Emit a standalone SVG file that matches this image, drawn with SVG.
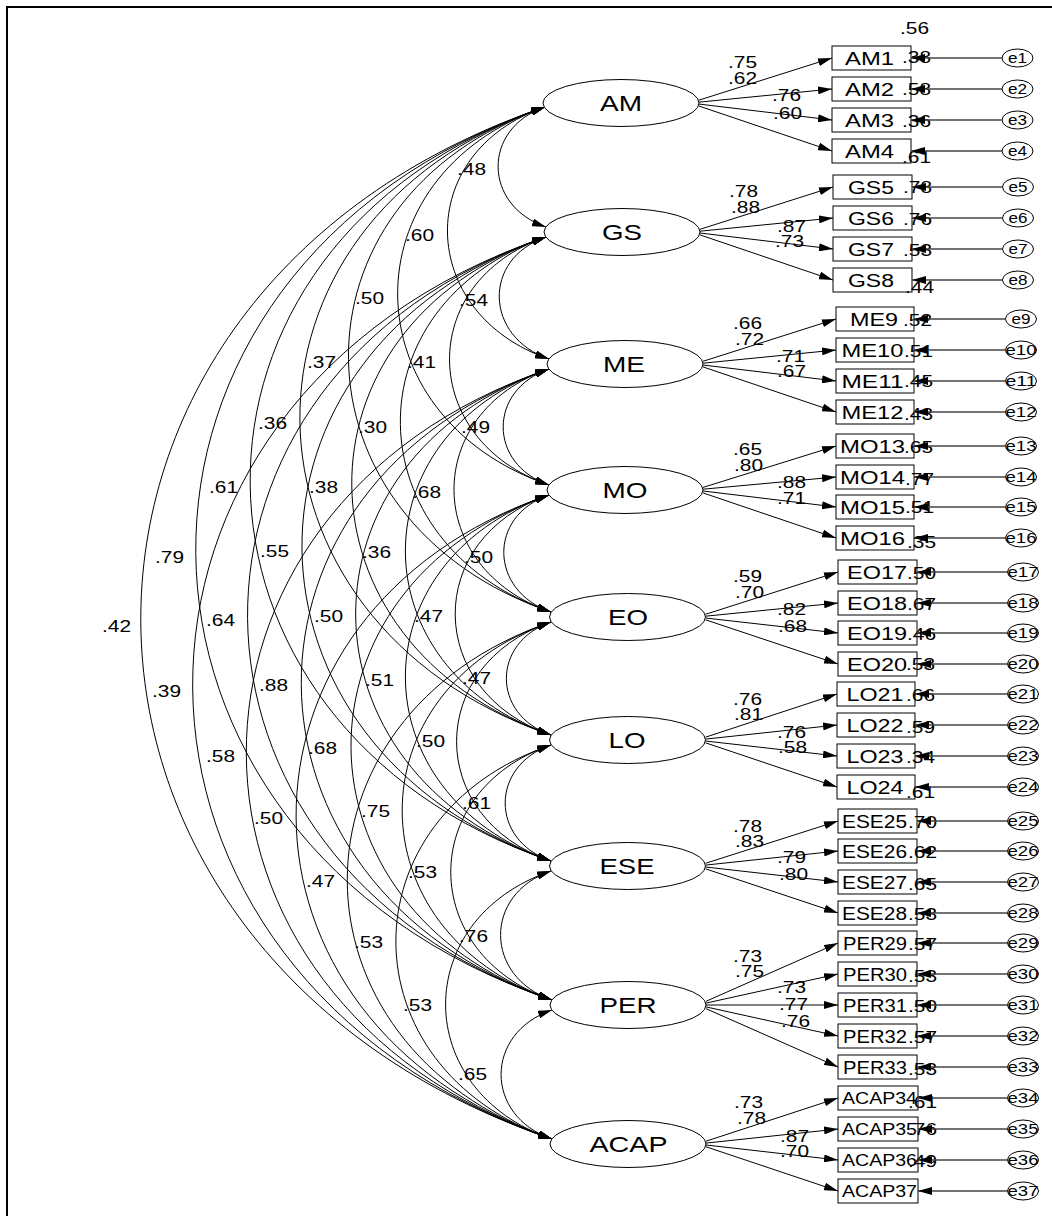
<svg xmlns="http://www.w3.org/2000/svg" width="1052" height="1216" viewBox="0 0 1052 1216">
<defs>
<marker id="ah" viewBox="0 0 14 8" refX="14" refY="4" markerWidth="14" markerHeight="8" markerUnits="userSpaceOnUse" orient="auto-start-reverse"><path d="M0,0 L14,4 L0,8 z" fill="#000"/></marker>
<style>
.lat ellipse{fill:#fff;stroke:#000;stroke-width:1}
.box{fill:#fff;stroke:#000;stroke-width:1}
.err ellipse{fill:#fff;stroke:#000;stroke-width:1}
text{font-family:"Liberation Sans",Arial,sans-serif;fill:#000}
.lt{font-size:22.5px;text-anchor:middle}
.ot{font-size:18px;text-anchor:middle}
.at{font-size:16.5px;text-anchor:middle}
.et{font-size:14px;text-anchor:middle}
.n{font-size:16.5px}
.arc{fill:none;stroke:#000;stroke-width:1;marker-start:url(#ah);marker-end:url(#ah)}
.ld{fill:none;stroke:#000;stroke-width:1;marker-end:url(#ah)}
.el{fill:none;stroke:#444;stroke-width:1.3;marker-end:url(#ah)}
</style>
</defs>
<rect width="1052" height="1216" fill="#fff"/>
<path d="M7,1216 V7 H1052" fill="none" stroke="#000" stroke-width="2"/>

<g id="connectors">
<g id="covariances">
<path class="arc" d="M545,107 C481.8,128.6 482.8,205.4 546,227"/>
<path class="arc" d="M545,107 C412.3,152.4 416.3,313.6 549,359"/>
<path class="arc" d="M545,107 C345.9,175 349.9,417 549,485"/>
<path class="arc" d="M545,107 C279,197.9 285,521.1 551,612"/>
<path class="arc" d="M545,107 C214.2,220 220.2,622 551,735"/>
<path class="arc" d="M545,107 C147.9,242.7 153.9,725.3 551,861"/>
<path class="arc" d="M545,107 C74.7,267.7 81.7,839.3 552,1000"/>
<path class="arc" d="M545,107 C1.4,292.8 8.4,953.2 552,1139"/>
<path class="arc" d="M546,237 C481.7,259 484.7,337 549,359"/>
<path class="arc" d="M546,237 C415.4,281.6 418.4,440.4 549,485"/>
<path class="arc" d="M546,237 C348.5,304.5 353.5,544.5 551,612"/>
<path class="arc" d="M546,237 C283.7,326.6 288.7,645.4 551,735"/>
<path class="arc" d="M546,237 C217.3,349.3 222.3,748.7 551,861"/>
<path class="arc" d="M546,237 C144.1,374.3 150.1,862.7 552,1000"/>
<path class="arc" d="M546,237 C70.9,399.4 76.9,976.6 552,1139"/>
<path class="arc" d="M549,369 C487.9,389.9 487.9,464.1 549,485"/>
<path class="arc" d="M549,369 C421,412.7 423,568.3 551,612"/>
<path class="arc" d="M549,369 C356.2,434.9 358.2,669.1 551,735"/>
<path class="arc" d="M549,369 C289.9,457.6 291.9,772.4 551,861"/>
<path class="arc" d="M549,369 C216.7,482.6 219.7,886.4 552,1000"/>
<path class="arc" d="M549,369 C143.4,507.6 146.4,1000.4 552,1139"/>
<path class="arc" d="M549,495 C487.4,516.1 489.4,590.9 551,612"/>
<path class="arc" d="M549,495 C422.6,538.2 424.6,691.8 551,735"/>
<path class="arc" d="M549,495 C356.2,560.9 358.2,795.1 551,861"/>
<path class="arc" d="M549,495 C283,585.9 286,909.1 552,1000"/>
<path class="arc" d="M549,495 C209.8,610.9 212.8,1023.1 552,1139"/>
<path class="arc" d="M551,622 C491.5,642.3 491.5,714.7 551,735"/>
<path class="arc" d="M551,622 C425.1,665 425.1,818 551,861"/>
<path class="arc" d="M551,622 C351.9,690 352.9,932 552,1000"/>
<path class="arc" d="M551,622 C278.7,715.1 279.7,1045.9 552,1139"/>
<path class="arc" d="M551,745 C489.9,765.9 489.9,840.1 551,861"/>
<path class="arc" d="M551,745 C416.7,790.9 417.7,954.1 552,1000"/>
<path class="arc" d="M551,745 C343.5,815.9 344.5,1068.1 552,1139"/>
<path class="arc" d="M551,871 C483.1,894.2 484.1,976.8 552,1000"/>
<path class="arc" d="M551,871 C409.8,919.2 410.8,1090.8 552,1139"/>
<path class="arc" d="M552,1010 C484.1,1033.2 484.1,1115.8 552,1139"/>
</g>
<g id="loadings">
<path class="ld" d="M698.5,100.3 L832,58"/>
<path class="ld" d="M698.5,102.2 L832,89"/>
<path class="ld" d="M698.5,104 L832,120"/>
<path class="ld" d="M698.5,105.9 L832,151"/>
<path class="ld" d="M700,229.3 L833,187"/>
<path class="ld" d="M700,231.2 L833,218"/>
<path class="ld" d="M700,233 L833,249"/>
<path class="ld" d="M700,234.9 L833,280"/>
<path class="ld" d="M703,361.3 L836,319"/>
<path class="ld" d="M703,363.2 L836,350"/>
<path class="ld" d="M703,365 L836,381"/>
<path class="ld" d="M703,366.9 L836,412"/>
<path class="ld" d="M703,487.4 L836,446"/>
<path class="ld" d="M703,489.2 L836,477"/>
<path class="ld" d="M703,491 L836,507"/>
<path class="ld" d="M703,492.9 L836,538"/>
<path class="ld" d="M705.5,614.3 L838,572"/>
<path class="ld" d="M705.5,616.2 L838,603"/>
<path class="ld" d="M705.5,618 L838,633"/>
<path class="ld" d="M705.5,619.8 L838,664"/>
<path class="ld" d="M705.5,737.2 L837,694"/>
<path class="ld" d="M705.5,739.1 L837,725"/>
<path class="ld" d="M705.5,741 L837,756"/>
<path class="ld" d="M705.5,742.8 L837,787"/>
<path class="ld" d="M705.5,863.3 L838,821"/>
<path class="ld" d="M705.5,865.1 L838,851"/>
<path class="ld" d="M705.5,867 L838,882"/>
<path class="ld" d="M705.5,868.8 L838,913"/>
<path class="ld" d="M706,1001.3 L838,943"/>
<path class="ld" d="M706,1003.1 L838,974"/>
<path class="ld" d="M706,1005 L838,1005"/>
<path class="ld" d="M706,1006.9 L838,1036"/>
<path class="ld" d="M706,1008.7 L838,1067"/>
<path class="ld" d="M706,1141.2 L838,1098"/>
<path class="ld" d="M706,1143.1 L838,1129"/>
<path class="ld" d="M706,1145 L838,1160"/>
<path class="ld" d="M706,1146.8 L838,1191"/>
</g>
</g>

<g id="latents" class="lat">
<g id="AM"><ellipse cx="621" cy="103" rx="78" ry="23.5"/><text class="lt" x="621" y="111" textLength="42" lengthAdjust="spacingAndGlyphs">AM</text></g>
<g id="GS"><ellipse cx="622" cy="232" rx="78" ry="23.5"/><text class="lt" x="622" y="240" textLength="40" lengthAdjust="spacingAndGlyphs">GS</text></g>
<g id="ME"><ellipse cx="625" cy="364" rx="78" ry="23.5"/><text class="lt" x="624" y="372" textLength="42" lengthAdjust="spacingAndGlyphs">ME</text></g>
<g id="MO"><ellipse cx="625" cy="490" rx="78" ry="23.5"/><text class="lt" x="625" y="498" textLength="45" lengthAdjust="spacingAndGlyphs">MO</text></g>
<g id="EO"><ellipse cx="627.5" cy="617" rx="78" ry="23.5"/><text class="lt" x="628" y="625" textLength="40" lengthAdjust="spacingAndGlyphs">EO</text></g>
<g id="LO"><ellipse cx="627.5" cy="740" rx="78" ry="23.5"/><text class="lt" x="627" y="748" textLength="37" lengthAdjust="spacingAndGlyphs">LO</text></g>
<g id="ESE"><ellipse cx="627.5" cy="866" rx="78" ry="23.5"/><text class="lt" x="627" y="874" textLength="55" lengthAdjust="spacingAndGlyphs">ESE</text></g>
<g id="PER"><ellipse cx="628" cy="1005" rx="78" ry="23.5"/><text class="lt" x="628" y="1013" textLength="57" lengthAdjust="spacingAndGlyphs">PER</text></g>
<g id="ACAP"><ellipse cx="628" cy="1144" rx="78" ry="23.5"/><text class="lt" x="628.5" y="1152" textLength="78" lengthAdjust="spacingAndGlyphs">ACAP</text></g>
</g>

<g id="observed">
<g id="AM1"><rect class="box" x="832" y="46" width="79" height="24"/><text class="ot" x="869.5" y="64.5" textLength="49" lengthAdjust="spacingAndGlyphs">AM1</text></g>
<g id="AM2"><rect class="box" x="832" y="77" width="79" height="24"/><text class="ot" x="869.5" y="95.5" textLength="49" lengthAdjust="spacingAndGlyphs">AM2</text></g>
<g id="AM3"><rect class="box" x="832" y="108" width="79" height="24"/><text class="ot" x="869.5" y="126.5" textLength="49" lengthAdjust="spacingAndGlyphs">AM3</text></g>
<g id="AM4"><rect class="box" x="832" y="139" width="79" height="24"/><text class="ot" x="869.5" y="157.5" textLength="49" lengthAdjust="spacingAndGlyphs">AM4</text></g>
<g id="GS5"><rect class="box" x="833" y="175" width="79" height="24"/><text class="ot" x="871" y="193.5" textLength="46" lengthAdjust="spacingAndGlyphs">GS5</text></g>
<g id="GS6"><rect class="box" x="833" y="206" width="79" height="24"/><text class="ot" x="871" y="224.5" textLength="46" lengthAdjust="spacingAndGlyphs">GS6</text></g>
<g id="GS7"><rect class="box" x="833" y="237" width="79" height="24"/><text class="ot" x="871" y="255.5" textLength="46" lengthAdjust="spacingAndGlyphs">GS7</text></g>
<g id="GS8"><rect class="box" x="833" y="268" width="79" height="24"/><text class="ot" x="871" y="286.5" textLength="46" lengthAdjust="spacingAndGlyphs">GS8</text></g>
<g id="ME9"><rect class="box" x="836" y="307" width="78" height="24"/><text class="ot" x="874" y="325.5" textLength="48" lengthAdjust="spacingAndGlyphs">ME9</text></g>
<g id="ME10"><rect class="box" x="836" y="338" width="78" height="24"/><text class="ot" x="872.5" y="356.5" textLength="62" lengthAdjust="spacingAndGlyphs">ME10</text></g>
<g id="ME11"><rect class="box" x="836" y="369" width="78" height="24"/><text class="ot" x="872.5" y="387.5" textLength="62" lengthAdjust="spacingAndGlyphs">ME11</text></g>
<g id="ME12"><rect class="box" x="836" y="400" width="78" height="24"/><text class="ot" x="872.5" y="418.5" textLength="62" lengthAdjust="spacingAndGlyphs">ME12</text></g>
<g id="MO13"><rect class="box" x="836" y="434" width="78" height="24"/><text class="ot" x="872.5" y="452.5" textLength="65" lengthAdjust="spacingAndGlyphs">MO13</text></g>
<g id="MO14"><rect class="box" x="836" y="465" width="78" height="24"/><text class="ot" x="872.5" y="483.5" textLength="65" lengthAdjust="spacingAndGlyphs">MO14</text></g>
<g id="MO15"><rect class="box" x="836" y="495" width="78" height="24"/><text class="ot" x="872.5" y="513.5" textLength="65" lengthAdjust="spacingAndGlyphs">MO15</text></g>
<g id="MO16"><rect class="box" x="836" y="526" width="78" height="24"/><text class="ot" x="872.5" y="544.5" textLength="65" lengthAdjust="spacingAndGlyphs">MO16</text></g>
<g id="EO17"><rect class="box" x="838" y="560" width="79" height="24"/><text class="ot" x="877" y="578.5" textLength="60" lengthAdjust="spacingAndGlyphs">EO17</text></g>
<g id="EO18"><rect class="box" x="838" y="591" width="79" height="24"/><text class="ot" x="877" y="609.5" textLength="60" lengthAdjust="spacingAndGlyphs">EO18</text></g>
<g id="EO19"><rect class="box" x="838" y="621" width="79" height="24"/><text class="ot" x="877" y="639.5" textLength="60" lengthAdjust="spacingAndGlyphs">EO19</text></g>
<g id="EO20"><rect class="box" x="838" y="652" width="79" height="24"/><text class="ot" x="877" y="670.5" textLength="60" lengthAdjust="spacingAndGlyphs">EO20</text></g>
<g id="LO21"><rect class="box" x="837" y="682" width="78" height="24"/><text class="ot" x="875" y="700.5" textLength="57" lengthAdjust="spacingAndGlyphs">LO21</text></g>
<g id="LO22"><rect class="box" x="837" y="713" width="78" height="24"/><text class="ot" x="875" y="731.5" textLength="57" lengthAdjust="spacingAndGlyphs">LO22</text></g>
<g id="LO23"><rect class="box" x="837" y="744" width="78" height="24"/><text class="ot" x="875" y="762.5" textLength="57" lengthAdjust="spacingAndGlyphs">LO23</text></g>
<g id="LO24"><rect class="box" x="837" y="775" width="78" height="24"/><text class="ot" x="875" y="793.5" textLength="57" lengthAdjust="spacingAndGlyphs">LO24</text></g>
<g id="ESE25"><rect class="box" x="838" y="809" width="79" height="24"/><text class="ot" x="874.5" y="827.5" textLength="65" lengthAdjust="spacingAndGlyphs">ESE25</text></g>
<g id="ESE26"><rect class="box" x="838" y="839" width="79" height="24"/><text class="ot" x="874.5" y="857.5" textLength="65" lengthAdjust="spacingAndGlyphs">ESE26</text></g>
<g id="ESE27"><rect class="box" x="838" y="870" width="79" height="24"/><text class="ot" x="874.5" y="888.5" textLength="65" lengthAdjust="spacingAndGlyphs">ESE27</text></g>
<g id="ESE28"><rect class="box" x="838" y="901" width="79" height="24"/><text class="ot" x="874.5" y="919.5" textLength="65" lengthAdjust="spacingAndGlyphs">ESE28</text></g>
<g id="PER29"><rect class="box" x="838" y="931" width="79" height="24"/><text class="ot" x="875" y="949.5" textLength="64" lengthAdjust="spacingAndGlyphs">PER29</text></g>
<g id="PER30"><rect class="box" x="838" y="962" width="79" height="24"/><text class="ot" x="875" y="980.5" textLength="64" lengthAdjust="spacingAndGlyphs">PER30</text></g>
<g id="PER31"><rect class="box" x="838" y="993" width="79" height="24"/><text class="ot" x="875" y="1011.5" textLength="64" lengthAdjust="spacingAndGlyphs">PER31</text></g>
<g id="PER32"><rect class="box" x="838" y="1024" width="79" height="24"/><text class="ot" x="875" y="1042.5" textLength="64" lengthAdjust="spacingAndGlyphs">PER32</text></g>
<g id="PER33"><rect class="box" x="838" y="1055" width="79" height="24"/><text class="ot" x="875" y="1073.5" textLength="64" lengthAdjust="spacingAndGlyphs">PER33</text></g>
<g id="ACAP34"><rect class="box" x="838" y="1086" width="80" height="24"/><text class="at" x="879.5" y="1104" textLength="75" lengthAdjust="spacingAndGlyphs">ACAP34</text></g>
<g id="ACAP35"><rect class="box" x="838" y="1117" width="80" height="24"/><text class="at" x="879.5" y="1135" textLength="75" lengthAdjust="spacingAndGlyphs">ACAP35</text></g>
<g id="ACAP36"><rect class="box" x="838" y="1148" width="80" height="24"/><text class="at" x="879.5" y="1166" textLength="75" lengthAdjust="spacingAndGlyphs">ACAP36</text></g>
<g id="ACAP37"><rect class="box" x="838" y="1179" width="80" height="24"/><text class="at" x="879.5" y="1197" textLength="75" lengthAdjust="spacingAndGlyphs">ACAP37</text></g>
</g>

<g id="r2-labels" class="n">
<text x="900" y="34" textLength="29" lengthAdjust="spacingAndGlyphs">.56</text>
<text x="902" y="63" textLength="29" lengthAdjust="spacingAndGlyphs">.38</text>
<text x="902" y="95" textLength="29" lengthAdjust="spacingAndGlyphs">.58</text>
<text x="902" y="127" textLength="29" lengthAdjust="spacingAndGlyphs">.36</text>
<text x="902" y="163" textLength="29" lengthAdjust="spacingAndGlyphs">.61</text>
<text x="903" y="193" textLength="29" lengthAdjust="spacingAndGlyphs">.78</text>
<text x="903" y="225" textLength="29" lengthAdjust="spacingAndGlyphs">.76</text>
<text x="903" y="256" textLength="29" lengthAdjust="spacingAndGlyphs">.53</text>
<text x="905" y="293" textLength="29" lengthAdjust="spacingAndGlyphs">.44</text>
<text x="903" y="326" textLength="29" lengthAdjust="spacingAndGlyphs">.52</text>
<text x="904" y="357" textLength="29" lengthAdjust="spacingAndGlyphs">.51</text>
<text x="904" y="387" textLength="29" lengthAdjust="spacingAndGlyphs">.45</text>
<text x="904" y="420" textLength="29" lengthAdjust="spacingAndGlyphs">.43</text>
<text x="904" y="453" textLength="29" lengthAdjust="spacingAndGlyphs">.65</text>
<text x="905" y="485" textLength="29" lengthAdjust="spacingAndGlyphs">.77</text>
<text x="905" y="513" textLength="29" lengthAdjust="spacingAndGlyphs">.51</text>
<text x="907" y="548" textLength="29" lengthAdjust="spacingAndGlyphs">.35</text>
<text x="907" y="579" textLength="29" lengthAdjust="spacingAndGlyphs">.50</text>
<text x="907" y="610" textLength="29" lengthAdjust="spacingAndGlyphs">.67</text>
<text x="907" y="640" textLength="29" lengthAdjust="spacingAndGlyphs">.46</text>
<text x="906" y="670" textLength="29" lengthAdjust="spacingAndGlyphs">.53</text>
<text x="906" y="701" textLength="29" lengthAdjust="spacingAndGlyphs">.66</text>
<text x="906" y="733" textLength="29" lengthAdjust="spacingAndGlyphs">.59</text>
<text x="906" y="763" textLength="29" lengthAdjust="spacingAndGlyphs">.34</text>
<text x="906" y="798" textLength="29" lengthAdjust="spacingAndGlyphs">.61</text>
<text x="908" y="828" textLength="29" lengthAdjust="spacingAndGlyphs">.70</text>
<text x="908" y="858" textLength="29" lengthAdjust="spacingAndGlyphs">.62</text>
<text x="908" y="890" textLength="29" lengthAdjust="spacingAndGlyphs">.65</text>
<text x="908" y="920" textLength="29" lengthAdjust="spacingAndGlyphs">.53</text>
<text x="908" y="950" textLength="29" lengthAdjust="spacingAndGlyphs">.57</text>
<text x="908" y="982" textLength="29" lengthAdjust="spacingAndGlyphs">.53</text>
<text x="908" y="1012" textLength="29" lengthAdjust="spacingAndGlyphs">.50</text>
<text x="908" y="1043" textLength="29" lengthAdjust="spacingAndGlyphs">.57</text>
<text x="908" y="1075" textLength="29" lengthAdjust="spacingAndGlyphs">.53</text>
<text x="908" y="1108" textLength="29" lengthAdjust="spacingAndGlyphs">.61</text>
<text x="908" y="1135" textLength="29" lengthAdjust="spacingAndGlyphs">.76</text>
<text x="908" y="1167" textLength="29" lengthAdjust="spacingAndGlyphs">.49</text>
</g>

<g id="errors" class="err">
<g id="e1"><ellipse cx="1017.5" cy="58" rx="15.5" ry="9"/><text class="et" x="1017.5" y="63" textLength="19" lengthAdjust="spacingAndGlyphs">e1</text></g>
<g id="e2"><ellipse cx="1017.5" cy="89" rx="15.5" ry="9"/><text class="et" x="1017.5" y="94" textLength="19" lengthAdjust="spacingAndGlyphs">e2</text></g>
<g id="e3"><ellipse cx="1017.5" cy="120" rx="15.5" ry="9"/><text class="et" x="1017.5" y="125" textLength="19" lengthAdjust="spacingAndGlyphs">e3</text></g>
<g id="e4"><ellipse cx="1017.5" cy="151" rx="15.5" ry="9"/><text class="et" x="1017.5" y="156" textLength="19" lengthAdjust="spacingAndGlyphs">e4</text></g>
<g id="e5"><ellipse cx="1018" cy="187" rx="15.5" ry="9"/><text class="et" x="1018" y="192" textLength="19" lengthAdjust="spacingAndGlyphs">e5</text></g>
<g id="e6"><ellipse cx="1018" cy="218" rx="15.5" ry="9"/><text class="et" x="1018" y="223" textLength="19" lengthAdjust="spacingAndGlyphs">e6</text></g>
<g id="e7"><ellipse cx="1018" cy="249" rx="15.5" ry="9"/><text class="et" x="1018" y="254" textLength="19" lengthAdjust="spacingAndGlyphs">e7</text></g>
<g id="e8"><ellipse cx="1018" cy="280" rx="15.5" ry="9"/><text class="et" x="1018" y="285" textLength="19" lengthAdjust="spacingAndGlyphs">e8</text></g>
<g id="e9"><ellipse cx="1021" cy="319" rx="15.5" ry="9"/><text class="et" x="1021" y="324" textLength="19" lengthAdjust="spacingAndGlyphs">e9</text></g>
<g id="e10"><ellipse cx="1021" cy="350" rx="15.5" ry="9"/><text class="et" x="1021" y="355" textLength="31" lengthAdjust="spacingAndGlyphs">e10</text></g>
<g id="e11"><ellipse cx="1021" cy="381" rx="15.5" ry="9"/><text class="et" x="1021" y="386" textLength="31" lengthAdjust="spacingAndGlyphs">e11</text></g>
<g id="e12"><ellipse cx="1021" cy="412" rx="15.5" ry="9"/><text class="et" x="1021" y="417" textLength="31" lengthAdjust="spacingAndGlyphs">e12</text></g>
<g id="e13"><ellipse cx="1021" cy="446" rx="15.5" ry="9"/><text class="et" x="1021" y="451" textLength="31" lengthAdjust="spacingAndGlyphs">e13</text></g>
<g id="e14"><ellipse cx="1021" cy="477" rx="15.5" ry="9"/><text class="et" x="1021" y="482" textLength="31" lengthAdjust="spacingAndGlyphs">e14</text></g>
<g id="e15"><ellipse cx="1021" cy="507" rx="15.5" ry="9"/><text class="et" x="1021" y="512" textLength="31" lengthAdjust="spacingAndGlyphs">e15</text></g>
<g id="e16"><ellipse cx="1021" cy="538" rx="15.5" ry="9"/><text class="et" x="1021" y="543" textLength="31" lengthAdjust="spacingAndGlyphs">e16</text></g>
<g id="e17"><ellipse cx="1023" cy="572" rx="15.5" ry="9"/><text class="et" x="1023" y="577" textLength="31" lengthAdjust="spacingAndGlyphs">e17</text></g>
<g id="e18"><ellipse cx="1023" cy="603" rx="15.5" ry="9"/><text class="et" x="1023" y="608" textLength="31" lengthAdjust="spacingAndGlyphs">e18</text></g>
<g id="e19"><ellipse cx="1023" cy="633" rx="15.5" ry="9"/><text class="et" x="1023" y="638" textLength="31" lengthAdjust="spacingAndGlyphs">e19</text></g>
<g id="e20"><ellipse cx="1023" cy="664" rx="15.5" ry="9"/><text class="et" x="1023" y="669" textLength="31" lengthAdjust="spacingAndGlyphs">e20</text></g>
<g id="e21"><ellipse cx="1023" cy="694" rx="15.5" ry="9"/><text class="et" x="1023" y="699" textLength="31" lengthAdjust="spacingAndGlyphs">e21</text></g>
<g id="e22"><ellipse cx="1023" cy="725" rx="15.5" ry="9"/><text class="et" x="1023" y="730" textLength="31" lengthAdjust="spacingAndGlyphs">e22</text></g>
<g id="e23"><ellipse cx="1023" cy="756" rx="15.5" ry="9"/><text class="et" x="1023" y="761" textLength="31" lengthAdjust="spacingAndGlyphs">e23</text></g>
<g id="e24"><ellipse cx="1023" cy="787" rx="15.5" ry="9"/><text class="et" x="1023" y="792" textLength="31" lengthAdjust="spacingAndGlyphs">e24</text></g>
<g id="e25"><ellipse cx="1023" cy="821" rx="15.5" ry="9"/><text class="et" x="1023" y="826" textLength="31" lengthAdjust="spacingAndGlyphs">e25</text></g>
<g id="e26"><ellipse cx="1023" cy="851" rx="15.5" ry="9"/><text class="et" x="1023" y="856" textLength="31" lengthAdjust="spacingAndGlyphs">e26</text></g>
<g id="e27"><ellipse cx="1023" cy="882" rx="15.5" ry="9"/><text class="et" x="1023" y="887" textLength="31" lengthAdjust="spacingAndGlyphs">e27</text></g>
<g id="e28"><ellipse cx="1023" cy="913" rx="15.5" ry="9"/><text class="et" x="1023" y="918" textLength="31" lengthAdjust="spacingAndGlyphs">e28</text></g>
<g id="e29"><ellipse cx="1023" cy="943" rx="15.5" ry="9"/><text class="et" x="1023" y="948" textLength="31" lengthAdjust="spacingAndGlyphs">e29</text></g>
<g id="e30"><ellipse cx="1023" cy="974" rx="15.5" ry="9"/><text class="et" x="1023" y="979" textLength="31" lengthAdjust="spacingAndGlyphs">e30</text></g>
<g id="e31"><ellipse cx="1023" cy="1005" rx="15.5" ry="9"/><text class="et" x="1023" y="1010" textLength="31" lengthAdjust="spacingAndGlyphs">e31</text></g>
<g id="e32"><ellipse cx="1023" cy="1036" rx="15.5" ry="9"/><text class="et" x="1023" y="1041" textLength="31" lengthAdjust="spacingAndGlyphs">e32</text></g>
<g id="e33"><ellipse cx="1023" cy="1067" rx="15.5" ry="9"/><text class="et" x="1023" y="1072" textLength="31" lengthAdjust="spacingAndGlyphs">e33</text></g>
<g id="e34"><ellipse cx="1023" cy="1098" rx="15.5" ry="9"/><text class="et" x="1023" y="1103" textLength="31" lengthAdjust="spacingAndGlyphs">e34</text></g>
<g id="e35"><ellipse cx="1023" cy="1129" rx="15.5" ry="9"/><text class="et" x="1023" y="1134" textLength="31" lengthAdjust="spacingAndGlyphs">e35</text></g>
<g id="e36"><ellipse cx="1023" cy="1160" rx="15.5" ry="9"/><text class="et" x="1023" y="1165" textLength="31" lengthAdjust="spacingAndGlyphs">e36</text></g>
<g id="e37"><ellipse cx="1023" cy="1191" rx="15.5" ry="9"/><text class="et" x="1023" y="1196" textLength="31" lengthAdjust="spacingAndGlyphs">e37</text></g>
</g>

<g id="error-connectors">
<path class="el" d="M1002,58 H911"/>
<path class="el" d="M1002,89 H911"/>
<path class="el" d="M1002,120 H911"/>
<path class="el" d="M1002,151 H911"/>
<path class="el" d="M1002.5,187 H912"/>
<path class="el" d="M1002.5,218 H912"/>
<path class="el" d="M1002.5,249 H912"/>
<path class="el" d="M1002.5,280 H912"/>
<path class="el" d="M1005.5,319 H914"/>
<path class="el" d="M1005.5,350 H914"/>
<path class="el" d="M1005.5,381 H914"/>
<path class="el" d="M1005.5,412 H914"/>
<path class="el" d="M1005.5,446 H914"/>
<path class="el" d="M1005.5,477 H914"/>
<path class="el" d="M1005.5,507 H914"/>
<path class="el" d="M1005.5,538 H914"/>
<path class="el" d="M1007.5,572 H917"/>
<path class="el" d="M1007.5,603 H917"/>
<path class="el" d="M1007.5,633 H917"/>
<path class="el" d="M1007.5,664 H917"/>
<path class="el" d="M1007.5,694 H915"/>
<path class="el" d="M1007.5,725 H915"/>
<path class="el" d="M1007.5,756 H915"/>
<path class="el" d="M1007.5,787 H915"/>
<path class="el" d="M1007.5,821 H917"/>
<path class="el" d="M1007.5,851 H917"/>
<path class="el" d="M1007.5,882 H917"/>
<path class="el" d="M1007.5,913 H917"/>
<path class="el" d="M1007.5,943 H917"/>
<path class="el" d="M1007.5,974 H917"/>
<path class="el" d="M1007.5,1005 H917"/>
<path class="el" d="M1007.5,1036 H917"/>
<path class="el" d="M1007.5,1067 H917"/>
<path class="el" d="M1007.5,1098 H918"/>
<path class="el" d="M1007.5,1129 H918"/>
<path class="el" d="M1007.5,1160 H918"/>
<path class="el" d="M1007.5,1191 H918"/>
</g>

<g id="loading-labels" class="n">
<text x="728" y="68" textLength="29" lengthAdjust="spacingAndGlyphs">.75</text>
<text x="728" y="84" textLength="29" lengthAdjust="spacingAndGlyphs">.62</text>
<text x="772" y="101" textLength="29" lengthAdjust="spacingAndGlyphs">.76</text>
<text x="773" y="119" textLength="29" lengthAdjust="spacingAndGlyphs">.60</text>
<text x="729" y="197" textLength="29" lengthAdjust="spacingAndGlyphs">.78</text>
<text x="731" y="213" textLength="29" lengthAdjust="spacingAndGlyphs">.88</text>
<text x="777" y="232" textLength="29" lengthAdjust="spacingAndGlyphs">.87</text>
<text x="775" y="247" textLength="29" lengthAdjust="spacingAndGlyphs">.73</text>
<text x="733" y="329" textLength="29" lengthAdjust="spacingAndGlyphs">.66</text>
<text x="735" y="345" textLength="29" lengthAdjust="spacingAndGlyphs">.72</text>
<text x="776" y="362" textLength="29" lengthAdjust="spacingAndGlyphs">.71</text>
<text x="777" y="377" textLength="29" lengthAdjust="spacingAndGlyphs">.67</text>
<text x="733" y="455" textLength="29" lengthAdjust="spacingAndGlyphs">.65</text>
<text x="734" y="471" textLength="29" lengthAdjust="spacingAndGlyphs">.80</text>
<text x="777" y="488" textLength="29" lengthAdjust="spacingAndGlyphs">.88</text>
<text x="777" y="504" textLength="29" lengthAdjust="spacingAndGlyphs">.71</text>
<text x="733" y="582" textLength="29" lengthAdjust="spacingAndGlyphs">.59</text>
<text x="735" y="598" textLength="29" lengthAdjust="spacingAndGlyphs">.70</text>
<text x="777" y="615" textLength="29" lengthAdjust="spacingAndGlyphs">.82</text>
<text x="778" y="632" textLength="29" lengthAdjust="spacingAndGlyphs">.68</text>
<text x="733" y="705" textLength="29" lengthAdjust="spacingAndGlyphs">.76</text>
<text x="734" y="720" textLength="29" lengthAdjust="spacingAndGlyphs">.81</text>
<text x="777" y="738" textLength="29" lengthAdjust="spacingAndGlyphs">.76</text>
<text x="778" y="753" textLength="29" lengthAdjust="spacingAndGlyphs">.58</text>
<text x="733" y="832" textLength="29" lengthAdjust="spacingAndGlyphs">.78</text>
<text x="735" y="847" textLength="29" lengthAdjust="spacingAndGlyphs">.83</text>
<text x="777" y="863" textLength="29" lengthAdjust="spacingAndGlyphs">.79</text>
<text x="779" y="880" textLength="29" lengthAdjust="spacingAndGlyphs">.80</text>
<text x="733" y="962" textLength="29" lengthAdjust="spacingAndGlyphs">.73</text>
<text x="735" y="977" textLength="29" lengthAdjust="spacingAndGlyphs">.75</text>
<text x="777" y="993" textLength="29" lengthAdjust="spacingAndGlyphs">.73</text>
<text x="779" y="1010" textLength="29" lengthAdjust="spacingAndGlyphs">.77</text>
<text x="781" y="1027" textLength="29" lengthAdjust="spacingAndGlyphs">.76</text>
<text x="734" y="1108" textLength="29" lengthAdjust="spacingAndGlyphs">.73</text>
<text x="737" y="1124" textLength="29" lengthAdjust="spacingAndGlyphs">.78</text>
<text x="780" y="1142" textLength="29" lengthAdjust="spacingAndGlyphs">.87</text>
<text x="780" y="1157" textLength="29" lengthAdjust="spacingAndGlyphs">.70</text>
</g>

<g id="covariance-labels" class="n">
<text x="457" y="175" textLength="29" lengthAdjust="spacingAndGlyphs">.48</text>
<text x="405" y="241" textLength="29" lengthAdjust="spacingAndGlyphs">.60</text>
<text x="355" y="304" textLength="29" lengthAdjust="spacingAndGlyphs">.50</text>
<text x="307" y="368" textLength="29" lengthAdjust="spacingAndGlyphs">.37</text>
<text x="258" y="429" textLength="29" lengthAdjust="spacingAndGlyphs">.36</text>
<text x="209" y="493" textLength="29" lengthAdjust="spacingAndGlyphs">.61</text>
<text x="155" y="563" textLength="29" lengthAdjust="spacingAndGlyphs">.79</text>
<text x="102" y="632" textLength="29" lengthAdjust="spacingAndGlyphs">.42</text>
<text x="459" y="306" textLength="29" lengthAdjust="spacingAndGlyphs">.54</text>
<text x="407" y="368" textLength="29" lengthAdjust="spacingAndGlyphs">.41</text>
<text x="358" y="433" textLength="29" lengthAdjust="spacingAndGlyphs">.30</text>
<text x="309" y="493" textLength="29" lengthAdjust="spacingAndGlyphs">.38</text>
<text x="260" y="557" textLength="29" lengthAdjust="spacingAndGlyphs">.55</text>
<text x="206" y="626" textLength="29" lengthAdjust="spacingAndGlyphs">.64</text>
<text x="152" y="697" textLength="29" lengthAdjust="spacingAndGlyphs">.39</text>
<text x="461" y="433" textLength="29" lengthAdjust="spacingAndGlyphs">.49</text>
<text x="412" y="498" textLength="29" lengthAdjust="spacingAndGlyphs">.68</text>
<text x="362" y="558" textLength="29" lengthAdjust="spacingAndGlyphs">.36</text>
<text x="314" y="622" textLength="29" lengthAdjust="spacingAndGlyphs">.50</text>
<text x="259" y="691" textLength="29" lengthAdjust="spacingAndGlyphs">.88</text>
<text x="206" y="762" textLength="29" lengthAdjust="spacingAndGlyphs">.58</text>
<text x="464" y="563" textLength="29" lengthAdjust="spacingAndGlyphs">.50</text>
<text x="414" y="622" textLength="29" lengthAdjust="spacingAndGlyphs">.47</text>
<text x="365" y="686" textLength="29" lengthAdjust="spacingAndGlyphs">.51</text>
<text x="308" y="754" textLength="29" lengthAdjust="spacingAndGlyphs">.68</text>
<text x="254" y="824" textLength="29" lengthAdjust="spacingAndGlyphs">.50</text>
<text x="462" y="684" textLength="29" lengthAdjust="spacingAndGlyphs">.47</text>
<text x="416" y="747" textLength="29" lengthAdjust="spacingAndGlyphs">.50</text>
<text x="361" y="817" textLength="29" lengthAdjust="spacingAndGlyphs">.75</text>
<text x="306" y="887" textLength="29" lengthAdjust="spacingAndGlyphs">.47</text>
<text x="462" y="809" textLength="29" lengthAdjust="spacingAndGlyphs">.61</text>
<text x="408" y="878" textLength="29" lengthAdjust="spacingAndGlyphs">.53</text>
<text x="354" y="948" textLength="29" lengthAdjust="spacingAndGlyphs">.53</text>
<text x="459" y="942" textLength="29" lengthAdjust="spacingAndGlyphs">.76</text>
<text x="403" y="1011" textLength="29" lengthAdjust="spacingAndGlyphs">.53</text>
<text x="458" y="1080" textLength="29" lengthAdjust="spacingAndGlyphs">.65</text>
</g>
</svg>
